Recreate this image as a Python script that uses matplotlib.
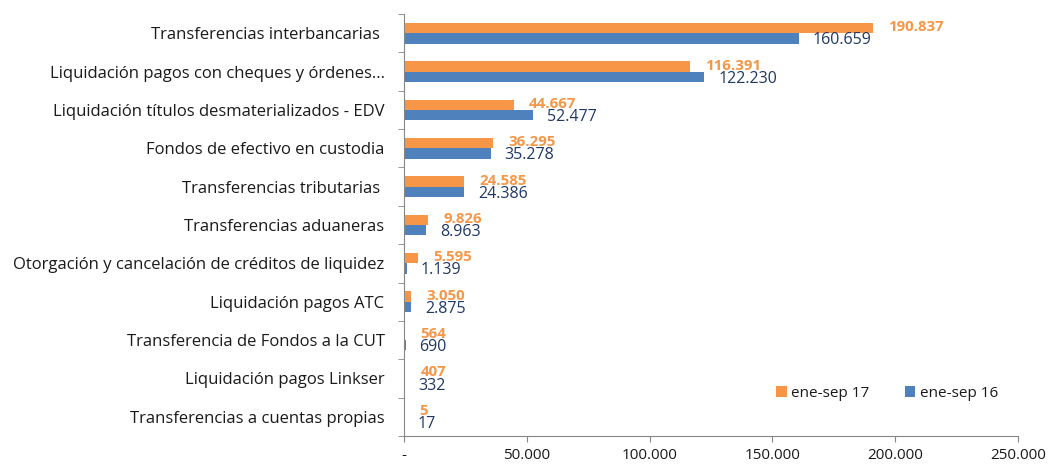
import matplotlib
matplotlib.use("Agg")
import matplotlib.pyplot as plt
import numpy as np

categories = [
    "Transferencias interbancarias ",
    "Liquidación pagos con cheques y órdenes...",
    "Liquidación títulos desmaterializados - EDV",
    "Fondos de efectivo en custodia",
    "Transferencias tributarias ",
    "Transferencias aduaneras",
    "Otorgación y cancelación de créditos de liquidez",
    "Liquidación pagos ATC",
    "Transferencia de Fondos a la CUT",
    "Liquidación pagos Linkser",
    "Transferencias a cuentas propias",
]
ene_sep_17 = [190837, 116391, 44667, 36295, 24585, 9826, 5595, 3050, 564, 407, 5]
ene_sep_16 = [160659, 122230, 52477, 35278, 24386, 8963, 1139, 2875, 690, 332, 17]
xticks = [0, 50000, 100000, 150000, 200000, 250000]
xticklabels = ["-", "50.000", "100.000", "150.000", "200.000", "250.000"]

ORANGE = "#F79646"
BLUE = "#4F81BD"
NAVY = "#1F3864"
GRAY = "#868686"
TXT = "#1a1a1a"

plt.rcParams["font.family"] = ["Open Sans", "DejaVu Sans"]

fig = plt.figure(figsize=(10.54, 4.66), dpi=100)
ax = fig.add_axes([0.3833, 0.0644, 0.5825, 0.9056])

n = len(categories)
y = np.arange(n)
h = 0.27
ax.barh(y - h / 2, ene_sep_17, height=h, color=ORANGE, label="ene-sep 17")
ax.barh(y + h / 2, ene_sep_16, height=h, color=BLUE, label="ene-sep 16")

def fmt(v):
    return f"{v:,}".replace(",", ".")

for yi, v in zip(y, ene_sep_17):
    ax.annotate(fmt(v), (v, yi - h / 2 - 0.02), xytext=(11, 0), textcoords="offset points",
                va="center", ha="left", color=ORANGE, fontsize=10.8, fontweight="bold")
for yi, v in zip(y, ene_sep_16):
    ax.annotate(fmt(v), (v, yi + h / 2 + 0.05), xytext=(10, 0), textcoords="offset points",
                va="center", ha="left", color=NAVY, fontsize=11.5)

ax.set_xlim(0, 250000)
ax.set_ylim(n - 0.5, -0.5)
ax.set_xticks(xticks)
ax.set_xticklabels(xticklabels, fontsize=11, color=TXT)
ax.set_yticks(y)
ax.set_yticklabels(categories, fontsize=12, color=TXT)
ax.set_yticks(np.arange(n + 1) - 0.5, minor=True)
ax.tick_params(axis="y", which="major", length=0, pad=14)
ax.tick_params(axis="y", which="minor", length=4, color=GRAY, direction="out")
ax.tick_params(axis="x", which="major", length=4, color=GRAY, direction="out", pad=5)

for s in ["top", "right"]:
    ax.spines[s].set_visible(False)
for s in ["left", "bottom"]:
    ax.spines[s].set_color(GRAY)

leg = ax.legend(loc="lower right", bbox_to_anchor=(0.99, 0.05), ncol=2, frameon=False,
                fontsize=11, handlelength=0.7, handleheight=0.7, handletextpad=0.3,
                columnspacing=2.3, labelcolor=TXT)

fig.savefig("out.png", dpi=100)
